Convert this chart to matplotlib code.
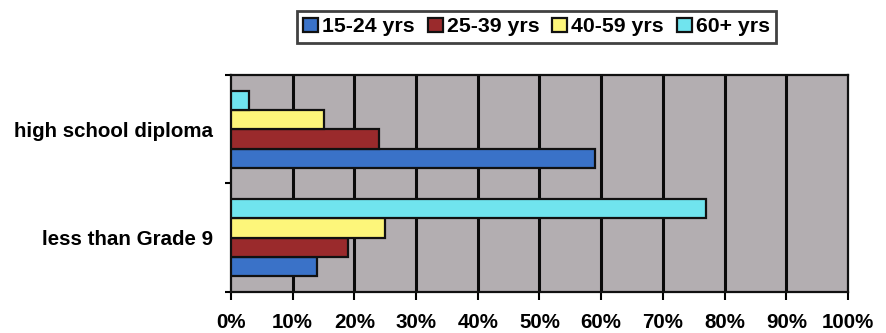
import matplotlib
matplotlib.use("Agg")
import matplotlib.pyplot as plt
import numpy as np

categories = ["less than Grade 9", "high school diploma"]
series_names = ["15-24 yrs", "25-39 yrs", "40-59 yrs", "60+ yrs"]
values = {
    "15-24 yrs": [14, 59],
    "25-39 yrs": [19, 24],
    "40-59 yrs": [25, 15],
    "60+ yrs": [77, 3],
}
colors = ["#3a72c8", "#9a2a2c", "#fdf67a", "#70e4ee"]
xtick_values = list(range(0, 101, 10))
xtick_labels = [f"{v}%" for v in xtick_values]

plt.rcParams["font.family"] = ["Liberation Sans", "DejaVu Sans"]
plt.rcParams["font.weight"] = "bold"
FS = 14.8

fig = plt.figure(figsize=(8.87, 3.33), dpi=100)
ax = fig.add_axes([0.2604, 0.1231, 0.6956, 0.6517])
ax.set_facecolor("#b3aeb1")

y = np.arange(len(categories))
bar_h = 0.178
offsets = (np.arange(len(series_names)) - 1.5) * bar_h
handles = []
for i, name in enumerate(series_names):
    h = ax.barh(y + offsets[i], values[name], height=bar_h, color=colors[i],
                edgecolor="#111111", linewidth=1.6, zorder=3, label=name)
    handles.append(h)

ax.set_xlim(0, 100)
ax.set_ylim(-0.5, 1.5)
ax.set_xticks(xtick_values)
ax.set_xticklabels(xtick_labels, fontsize=FS, fontweight="bold")
for v in xtick_values[1:-1]:
    ax.axvline(v, color="#0a0a0a", linewidth=2.2, zorder=2)

ax.set_yticks([-0.5, 0.5, 1.5])
ax.set_yticklabels([])
ax.set_yticks(y, minor=True)
ax.set_yticklabels(categories, minor=True, fontsize=FS, fontweight="bold")
ax.tick_params(axis="y", which="minor", length=0, pad=13)
ax.tick_params(axis="y", which="major", length=4, width=1.5, direction="out")
ax.tick_params(axis="x", length=6, width=1.5, direction="out", pad=9)

for side, sp in ax.spines.items():
    sp.set_color("#111111")
    sp.set_linewidth(1.6)

leg = fig.legend(handles=handles, labels=series_names, loc="center",
                 bbox_to_anchor=(0.605, 0.919), ncol=4, frameon=True,
                 fancybox=False, edgecolor="#111111", fontsize=15.3,
                 handlelength=0.7, handleheight=0.7, handletextpad=0.2,
                 columnspacing=0.6, borderpad=0.3, borderaxespad=0)
leg.get_frame().set_linewidth(2.0)
for t in leg.get_texts():
    t.set_fontweight("bold")

fig.savefig("out.png", dpi=100, facecolor="white")
